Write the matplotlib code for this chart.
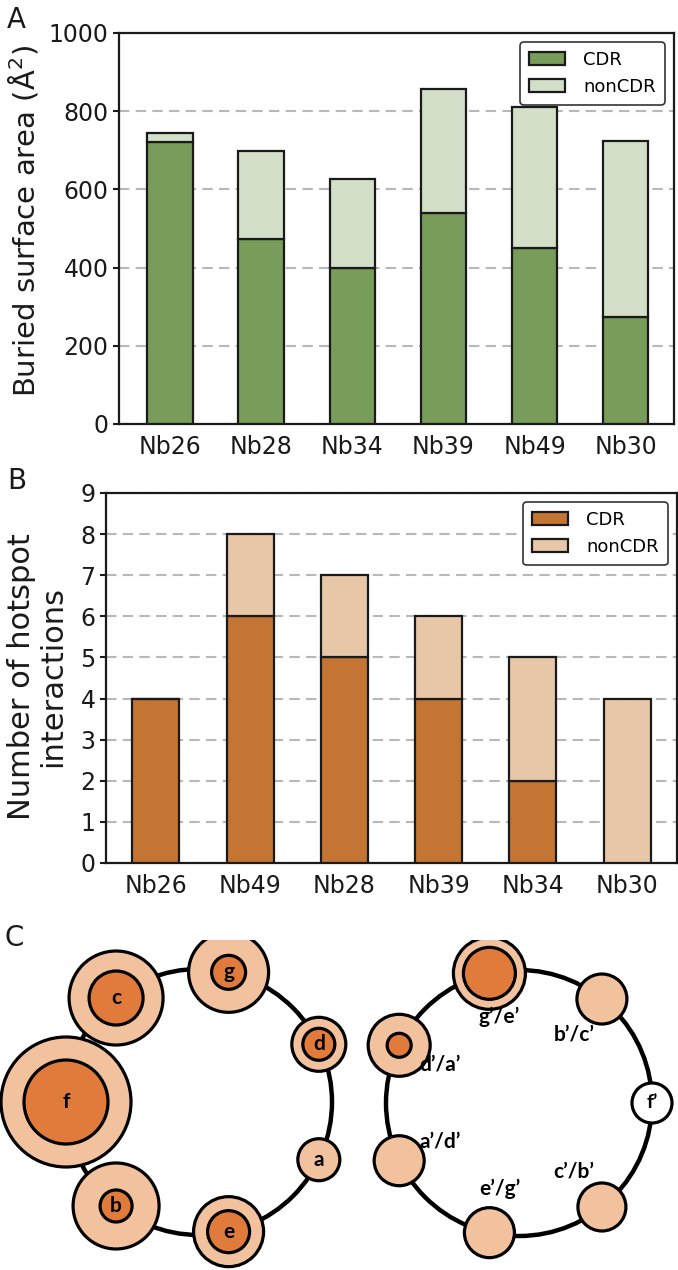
import numpy as np
import matplotlib.pyplot as plt
from matplotlib.patches import Circle

# panel A: buried surface area
areaNames = ["Nb26", "Nb28", "Nb34", "Nb39", "Nb49", "Nb30"]
areaCdr = [722, 474, 399, 540, 450, 274]
areaNonCdr = [23, 225, 227, 317, 360, 449]

# panel B: hotspot interactions
hotNames = ["Nb26", "Nb49", "Nb28", "Nb39", "Nb34", "Nb30"]
hotCdr = [4, 6, 5, 4, 2, 0]
hotNonCdr = [0, 2, 2, 2, 3, 4]

# panel C: helical wheels (outer / inner radius in px)
leftLabels = ["f", "c", "g", "d", "a", "e", "b"]
leftOuter = [65, 47, 40, 27, 21, 35, 43]
leftInner = [42, 27, 17, 16, 0, 21, 16]
rightLabels = ["f\u2019", "b\u2019/c\u2019", "g\u2019/e\u2019", "d\u2019/a\u2019",
               "a\u2019/d\u2019", "e\u2019/g\u2019", "c\u2019/b\u2019"]
rightOuter = [20, 25, 36, 31, 25, 25, 24]
rightInner = [0, 0, 26, 12, 0, 0, 0]

W, H = 678, 1270
fig = plt.figure(figsize=(W / 100, H / 100), dpi=100)

def bar_panel(rect, names, cdr, noncdr, cLight, cDark, ylim, yticks, xlim):
    ax = fig.add_axes(rect)
    x = np.arange(len(names))
    ax.bar(x, cdr, width=0.5, color=cDark, edgecolor="#1a1a1a", linewidth=1.6, label="CDR", zorder=3)
    ax.bar(x, noncdr, width=0.5, bottom=cdr, color=cLight, edgecolor="#1a1a1a", linewidth=1.6,
           label="nonCDR", zorder=3)
    ax.set_xlim(*xlim)
    ax.set_ylim(*ylim)
    ax.set_yticks(yticks)
    ax.set_xticks(x)
    ax.set_xticklabels(names)
    ax.tick_params(axis="x", length=0, labelsize=17, pad=8, colors="#1a1a1a")
    ax.tick_params(axis="y", length=4, width=1.5, labelsize=17, colors="#1a1a1a")
    ax.yaxis.grid(True, linestyle=(0, (5, 3)), color="#b8b8b8", linewidth=1.5, zorder=0)
    ax.set_axisbelow(True)
    for s in ax.spines.values():
        s.set_linewidth(1.6)
        s.set_color("#1a1a1a")
    leg = ax.legend(loc="upper right", fontsize=13, frameon=True, fancybox=True,
                    edgecolor="#333333", framealpha=1, borderpad=0.5, handletextpad=1.0)
    leg.get_frame().set_linewidth(1.2)
    return ax

axA = bar_panel([119 / W, 1 - 424 / H, 555 / W, 391 / H], areaNames, areaCdr, areaNonCdr,
                "#d3dfc8", "#789c5a", (0, 1000), [0, 200, 400, 600, 800, 1000], (-0.56, 5.53))
axA.set_ylabel("Buried surface area (\u00c5$^2$)", fontsize=21, color="#1a1a1a")
axA.yaxis.set_label_coords(-0.142, 0.52)

axB = bar_panel([106 / W, 1 - 863 / H, 571 / W, 370 / H], hotNames, hotCdr, hotNonCdr,
                "#e8c6a8", "#c47533", (0, 9), list(range(10)), (-0.53, 5.53))
axB.set_ylabel("Number of hotspot\ninteractions", fontsize=22, color="#1a1a1a", linespacing=1.1)
axB.yaxis.set_label_coords(-0.068, 0.505)

fig.text(7 / W, 1 - 28 / H, "A", fontsize=20, color="#1a1a1a")
fig.text(7 / W, 1 - 489 / H, "B", fontsize=20, color="#1a1a1a")
fig.text(5 / W, 1 - 946 / H, "C", fontsize=20, color="#1a1a1a")

# panel C drawn in pixel coordinates
axC = fig.add_axes([0, 0, 1, 330 / H])
axC.set_xlim(0, W)
axC.set_ylim(H, 940)
axC.axis("off")

outerCol = "#f2c29f"
innerCol = "#e07b3c"
step = 360 / 7
R = 133

# left wheel
cx, cy = 199, 1102
axC.add_patch(Circle((cx, cy), R, fill=False, lw=3.2, ec="black", zorder=1))
for k, lab in enumerate(leftLabels):
    th = np.radians(180 - k * step)
    px, py = cx + R * np.cos(th), cy - R * np.sin(th)
    axC.add_patch(Circle((px, py), leftOuter[k], fc=outerCol, ec="black", lw=2.3, zorder=2))
    if leftInner[k] > 0:
        axC.add_patch(Circle((px, py), leftInner[k], fc=innerCol, ec="black", lw=2.3, zorder=3))
    axC.text(px, py, lab, ha="center", va="center", fontsize=15, fontweight="bold",
             family="Lato", zorder=4)

# right wheel
cx, cy = 519, 1103
axC.add_patch(Circle((cx, cy), R, fill=False, lw=3.2, ec="black", zorder=1))
for k, lab in enumerate(rightLabels):
    th = np.radians(k * step)
    px, py = cx + R * np.cos(th), cy - R * np.sin(th)
    fc = "white" if k == 0 else outerCol
    axC.add_patch(Circle((px, py), rightOuter[k], fc=fc, ec="black", lw=2.3, zorder=2))
    if rightInner[k] > 0:
        axC.add_patch(Circle((px, py), rightInner[k], fc=innerCol, ec="black", lw=2.3, zorder=3))
    if k == 0:
        axC.text(px, py, lab, ha="center", va="center", fontsize=14, fontweight="bold",
                 family="Lato", zorder=4)
    else:
        lx, ly = cx + 88 * np.cos(th), cy - 88 * np.sin(th)
        axC.text(lx, ly, lab, ha="center", va="center", fontsize=15, fontweight="bold",
                 family="Lato", zorder=4)

fig.savefig("out.png", dpi=100)
